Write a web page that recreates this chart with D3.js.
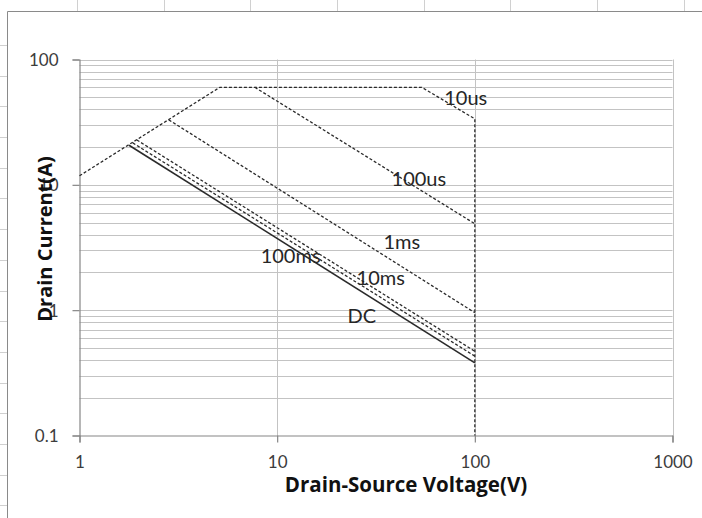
<!DOCTYPE html>
<html>
<head>
<meta charset="utf-8">
<script src="https://cdn.jsdelivr.net/npm/d3@7"></script>
<style>
  html, body { margin: 0; padding: 0; background: #fff; }
  svg { display: block; }
</style>
</head>
<body>
<svg id="chart" width="702" height="518"></svg>
<script>
// ---- data ----
const xTicks = [1, 10, 100, 1000];
const xTickLabels = ["1", "10", "100", "1000"];
const yTicks = [0.1, 1, 10, 100];
const yTickLabels = ["0.1", "1", "10", "100"];

// Safe operating area boundaries (V, A)
const envV = [1, 5.13, 53.9, 100, 100];
const envI = [11.8, 60, 60, 33.6, 0.1];
const us100V = [7.71, 100];
const us100I = [60, 4.89];
const ms1V = [2.83, 100];
const ms1I = [33, 0.955];
const ms10V = [1.95, 100];
const ms10I = [22.8, 0.47];
const ms100V = [1.86, 100];
const ms100I = [21.6, 0.43];
const dcV = [1.78, 100];
const dcI = [20.7, 0.38];

const labelTexts = ["10us", "100us", "1ms", "10ms", "100ms", "DC"];
const labelV = [90, 52.1, 42.7, 33.4, 11.7, 26.8];
const labelI = [49.3, 11.2, 3.52, 1.82, 2.72, 0.90];

const xTitle = "Drain-Source Voltage(V)";
const yTitle = "Drain Current(A)";

// ---- drawing ----
const svg = d3.select("#chart");
const W = 702, H = 518;

// spreadsheet-like frame
const frame = svg.append("g");
frame.append("line").attr("x1", 7.5).attr("x2", W).attr("y1", 11.5).attr("y2", 11.5)
  .attr("stroke", "#8a8a8a").attr("stroke-width", 1);
frame.append("line").attr("x1", 7.5).attr("x2", 7.5).attr("y1", 11.5).attr("y2", H)
  .attr("stroke", "#8a8a8a").attr("stroke-width", 1);
for (let tx = 77; tx < W; tx += 86.7) {
  frame.append("line").attr("x1", Math.round(tx) + 0.5).attr("x2", Math.round(tx) + 0.5)
    .attr("y1", 0).attr("y2", 11).attr("stroke", "#d0d0d0");
}
for (let ty = 45; ty < H; ty += 30.7) {
  frame.append("line").attr("x1", 0).attr("x2", 7).attr("y1", Math.round(ty) + 0.5)
    .attr("y2", Math.round(ty) + 0.5).attr("stroke", "#d0d0d0");
}

const x = d3.scaleLog().domain([1, 1000]).range([79.5, 672.5]);
const y = d3.scaleLog().domain([0.1, 100]).range([435.5, 59.5]);

// gridlines
const grid = svg.append("g");
const minorY = [];
for (let e = -1; e < 2; e++) {
  for (let k = 1; k <= 9; k++) minorY.push(k * Math.pow(10, e));
}
minorY.push(100);
grid.selectAll("line.h").data(minorY.filter(v => v > 0.1 + 1e-9)).enter().append("line")
  .attr("x1", x(1)).attr("x2", x(1000))
  .attr("y1", d => Math.round(y(d)) + 0.5).attr("y2", d => Math.round(y(d)) + 0.5)
  .attr("stroke", "#c3c3c3").attr("stroke-width", 1);
grid.selectAll("line.v").data(xTicks.slice(1)).enter().append("line")
  .attr("x1", d => Math.round(x(d)) + 0.5).attr("x2", d => Math.round(x(d)) + 0.5)
  .attr("y1", y(100)).attr("y2", y(0.1))
  .attr("stroke", "#c3c3c3").attr("stroke-width", 1);

// axes
const xAxis = d3.axisBottom(x).tickValues(xTicks).tickSize(7)
  .tickFormat((d, i) => xTickLabels[i]);
const yAxis = d3.axisLeft(y).tickValues(yTicks).tickSize(7)
  .tickFormat((d, i) => yTickLabels[i]);

const gx = svg.append("g").attr("transform", `translate(0,${y(0.1)})`).call(xAxis);
const gy = svg.append("g").attr("transform", `translate(${x(1)},0)`).call(yAxis);
[gx, gy].forEach(g => {
  g.select(".domain").attr("stroke", "#868686").attr("stroke-width", 1.2);
  g.selectAll(".tick line").attr("stroke", "#868686").attr("stroke-width", 1.2);
  g.selectAll(".tick text").attr("fill", "#3c3c3c")
    .style("font-family", "Lato, 'Open Sans', sans-serif").style("font-size", "17px");
});
gx.selectAll(".tick text").attr("dy", 0).attr("y", 32);
gy.selectAll(".tick text").attr("x", -21).attr("dy", "0.36em");

// lines
const line = d3.line().x(d => x(d[0])).y(d => y(d[1]));
const zip = (a, b) => a.map((v, i) => [v, b[i]]);
const series = [
  { pts: zip(envV, envI), dash: "3,2", w: 1.3 },
  { pts: zip(us100V, us100I), dash: "3,2", w: 1.3 },
  { pts: zip(ms1V, ms1I), dash: "3,2", w: 1.3 },
  { pts: zip(ms10V, ms10I), dash: "3,2", w: 1.3 },
  { pts: zip(ms100V, ms100I), dash: "3,2", w: 1.3 },
  { pts: zip(dcV, dcI), dash: null, w: 1.6 }
];
svg.append("g").selectAll("path").data(series).enter().append("path")
  .attr("d", d => line(d.pts))
  .attr("fill", "none")
  .attr("stroke", "#2a2a2a")
  .attr("stroke-width", d => d.w)
  .attr("stroke-dasharray", d => d.dash);

// annotation labels
svg.append("g").selectAll("text").data(labelTexts).enter().append("text")
  .attr("x", (d, i) => x(labelV[i]))
  .attr("y", (d, i) => y(labelI[i]))
  .attr("text-anchor", "middle")
  .attr("dy", "0.36em")
  .attr("fill", "#262626")
  .style("font-family", "Lato, 'Open Sans', sans-serif")
  .style("font-size", "20px")
  .text(d => d);

// axis titles
svg.append("text")
  .attr("x", 406).attr("y", 492)
  .attr("text-anchor", "middle")
  .attr("fill", "#111")
  .style("font-family", "'Open Sans', Lato, sans-serif")
  .style("font-weight", "bold")
  .style("font-size", "20.5px")
  .text(xTitle);
svg.append("text")
  .attr("transform", "translate(52,239) rotate(-90)")
  .attr("text-anchor", "middle")
  .attr("fill", "#111")
  .style("font-family", "'Open Sans', Lato, sans-serif")
  .style("font-weight", "bold")
  .style("font-size", "20px")
  .text(yTitle);
</script>
</body>
</html>
